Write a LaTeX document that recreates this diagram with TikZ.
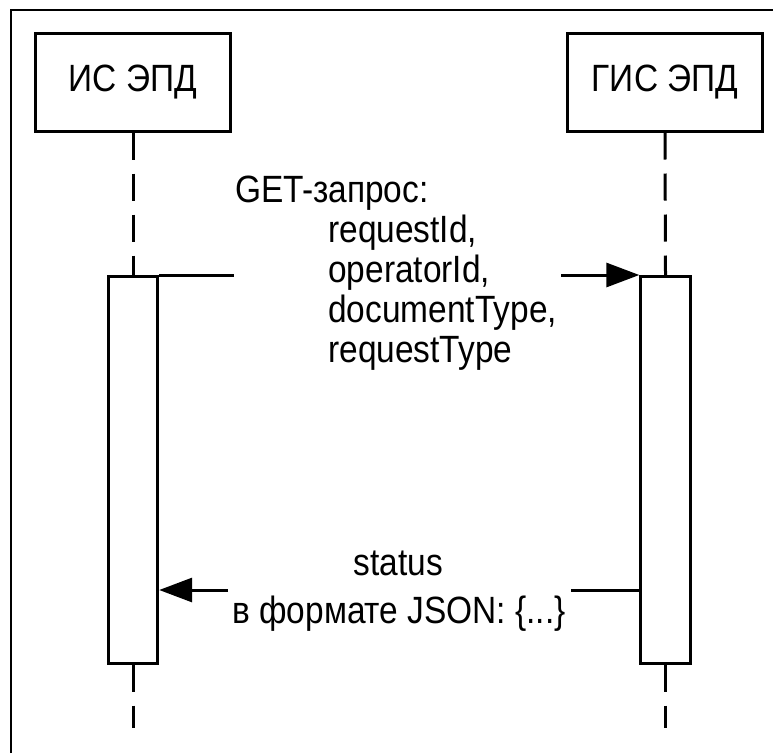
\documentclass[tikz,border=0pt]{standalone}
\usepackage{fontspec}
\setmainfont[FakeStretch=0.88]{Liberation Sans}
\usetikzlibrary{arrows.meta}
\begin{document}
\begin{tikzpicture}[x=0.75pt,y=-0.75pt,
  txt/.style={inner sep=0pt,font=\fontsize{28.5}{30}\selectfont},
  actor/.style={draw,line width=2.25pt,minimum width=146.25pt,minimum height=73.5pt,inner sep=0pt,font=\fontsize{28.5}{30}\selectfont},
  act/.style={draw,line width=2.25pt,minimum width=37pt,minimum height=290pt,inner sep=0pt,fill=white},
  life/.style={line width=2.25pt,dash pattern=on 20.25pt off 10.5pt},
  msg/.style={line width=2.25pt},
  tip/.style={-{Triangle[length=24.75pt,width=18pt]}}]
\useasboundingbox (0,0) rectangle (773,753);
\fill[white] (0,0) rectangle (773,753);
% frame
\draw[line width=1.5pt] (11,753) -- (11,9.5) -- (773,9.5);
% actors
\node[actor] (a) at (133,82) {ИС ЭПД};
\node[actor] (b) at (665,82) {ГИС ЭПД};
% lifeline ends
\coordinate (aend) at (133,728);
\coordinate (bend) at (665.5,728);
% activations
\node[act,anchor=north] (aa) at (133,275) {};
\node[act,anchor=north] (ba) at (665.5,275) {};
% lifelines
\draw[life] (a.south) -- (aa.north);
\draw[life] (b.south) -- (ba.north);
\draw[life] (aa.south) -- (aend);
\draw[life] (ba.south) -- (bend);
% message 1
\coordinate (m1a) at (234,275);
\coordinate (m1b) at (561,275);
\draw[msg] (aa.north east) -- (m1a);
\draw[msg,tip] (m1b) -- (ba.north west);
% message 2
\coordinate (m2a) at (571,590);
\coordinate (m2b) at (228,590);
\draw[msg] (ba.west |- m2a) -- (m2a);
\draw[msg,tip] (m2b) -- (aa.east |- m2b);
% labels
\node[txt,anchor=base west] (l1) at (235,202) {GET-запрос:};
\node[txt,anchor=base west] (l2) at (328,242) {requestId,};
\node[txt,anchor=base west] (l3) at (328,282) {operatorId,};
\node[txt,anchor=base west] (l4) at (328,322) {documentType,};
\node[txt,anchor=base west] (l5) at (328,362) {requestType};
\node[txt,anchor=base] (r1) at (398.5,575) {status};
\node[txt,anchor=base] (r2) at (399,623) {в формате JSON: \{...\}};
\end{tikzpicture}
\end{document}
